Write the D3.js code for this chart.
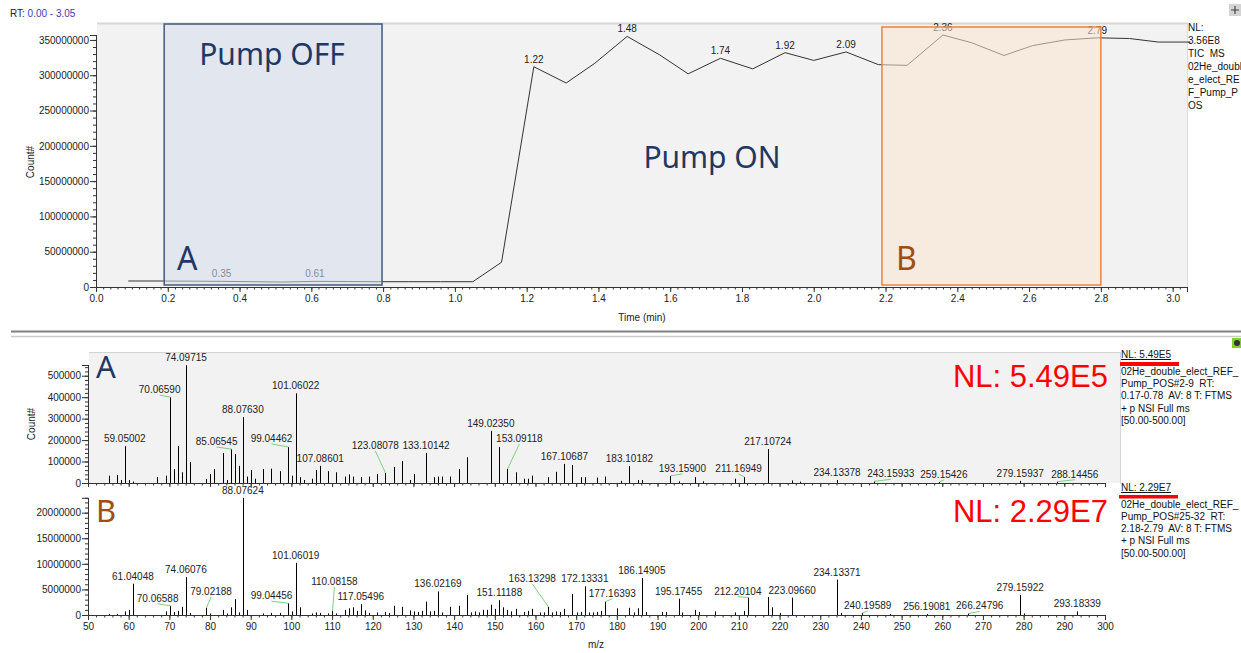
<!DOCTYPE html>
<html>
<head>
<meta charset="UTF-8">
<title>TIC and spectra</title>
<script src="https://cdn.jsdelivr.net/npm/d3@7/dist/d3.min.js"></script>
<style>
    body { margin: 0; background: #fff; }
    svg text { font-family: "Liberation Sans", Arial, sans-serif; }
    .axis text { font-size: 10px; fill: #222; }
    .axis path, .axis line { stroke: #333; }
    .lab { font-size: 10px; fill: #222; }
    .info { font-size: 10px; fill: #111; white-space: pre; }
    .big { font-family: "Noto Sans", sans-serif; }
</style>
</head>
<body>
<svg id="svg"></svg>
<script>

var WIDTH = 1241;
var HEIGHT = 653;

// TIC chromatogram
var ticTime  = [0.09, 0.17, 0.26, 0.35, 0.44, 0.52, 0.61, 0.70, 0.78, 0.87, 0.96, 1.05, 1.13,
                1.22, 1.31, 1.39, 1.48, 1.57, 1.65, 1.74, 1.83, 1.92, 2.00, 2.09, 2.18, 2.26,
                2.36, 2.44, 2.53, 2.61, 2.70, 2.79, 2.88, 2.96, 3.05];
var ticCount = [8.5e6, 8.5e6, 8.3e6, 8.0e6, 7.5e6, 7.0e6, 8.0e6, 7.8e6, 7.5e6, 7.5e6, 7.5e6, 7.5e6, 35e6,
                312e6, 289e6, 317e6, 355e6, 329e6, 302e6, 324e6, 309e6, 332e6, 321e6, 333e6, 315e6, 314e6,
                357e6, 346e6, 328e6, 342e6, 350e6, 353e6, 352e6, 347e6, 347e6];
var ticLabelled = [0.35, 0.61, 1.22, 1.48, 1.74, 1.92, 2.09, 2.36, 2.79];
var ticYTicks = [0, 50e6, 100e6, 150e6, 200e6, 250e6, 300e6, 350e6];
var ticXTicks = [0.0, 0.2, 0.4, 0.6, 0.8, 1.0, 1.2, 1.4, 1.6, 1.8, 2.0, 2.2, 2.4, 2.6, 2.8, 3.0];
var rangeA = [0.19, 0.797];
var rangeB = [2.19, 2.80];

// spectrum A (pump off)
var specA = [
    [55.05, 34000], [57.07, 37000], [58.07, 14000], [59.05002, 172000], [60.08, 14000], [61.04, 7000],
    [67.05, 28000], [69.07, 34000], [70.06590, 400000], [71.07, 65000], [72.08, 172000], [73.07, 50000],
    [74.06, 280000], [74.09715, 549000], [75.08, 98000], [79.05, 19000], [80.05, 42000], [81.07, 65000],
    [83.09, 140000], [84.08, 14000], [85.06545, 158000], [86.10, 135000], [87.04, 80000], [88.07630, 307000],
    [89.06, 30000], [90.05, 60000], [91.05, 20000], [93.07, 65000], [95.09, 67000], [97.10, 55000],
    [99.04462, 168000], [100.08, 34000], [101.06022, 418000], [102.09, 27000], [103.05, 14000], [105.07, 20000],
    [106.09, 60000], [107.08601, 80000], [109.10, 55000], [111.08, 50000], [113.10, 30000], [114.09, 40000],
    [115.08, 30000], [117.07, 28000], [119.09, 30000], [121.10, 42000], [123.08078, 47000], [125.10, 75000],
    [127.11, 102000], [129.09, 14000], [130.09, 42000], [133.10142, 140000], [135.12, 27000], [136.08, 30000],
    [137.10, 30000], [139.11, 30000], [141.09, 65000], [143.11, 120000], [149.02350, 243000], [151.11, 168000],
    [153.09118, 65000], [155.11, 50000], [157.12, 20000], [158.09, 20000], [159.10, 34000], [163.13, 27000],
    [165.09, 52000], [167.10687, 89000], [169.10, 84000], [171.11, 27000], [172.13, 27000], [175.12, 25000],
    [177.16, 30000], [181.12, 10000], [183.10182, 79000], [185.13, 14000], [186.15, 14000], [193.15900, 33000],
    [195.17, 8000], [199.13, 27000], [201.12, 8000], [209.15, 20000], [211.16949, 28000], [217.10724, 158000],
    [223.10, 12000], [225.12, 6000], [234.13378, 14000], [243.15933, 8000], [259.15426, 5000],
    [279.15937, 10000], [288.14456, 6000]
];
var specALabelled = [59.05002, 70.06590, 74.09715, 85.06545, 88.07630, 99.04462, 101.06022, 107.08601,
                     123.08078, 133.10142, 149.02350, 153.09118, 167.10687, 183.10182, 193.15900,
                     211.16949, 217.10724, 234.13378, 243.15933, 259.15426, 279.15937, 288.14456];
var specAYTicks = [0, 100000, 200000, 300000, 400000, 500000];

// spectrum B (pump on)
var specB = [
    [55.05, 200000], [57.07, 200000], [59.05, 700000], [60.04, 1000000], [61.04048, 6100000], [69.07, 700000],
    [70.06588, 1800000], [71.05, 600000], [72.08, 800000], [73.07, 1600000], [74.06076, 7400000], [74.10, 6900000],
    [75.08, 400000], [79.02188, 1400000], [80.05, 300000], [83.09, 1000000], [84.08, 300000], [85.07, 1500000],
    [86.10, 3100000], [87.07, 500000], [88.07624, 22900000], [89.08, 1000000], [93.07, 300000], [95.09, 400000],
    [97.10, 400000], [99.04456, 2300000], [100.08, 700000], [101.06019, 10200000], [102.09, 1500000],
    [105.07, 300000], [106.09, 500000], [107.09, 400000], [109.10, 300000], [110.08158, 800000], [111.08, 300000],
    [113.10, 1000000], [114.09, 1300000], [115.08, 1500000], [116.07, 800000], [117.05496, 2100000],
    [118.09, 900000], [119.09, 400000], [121.10, 500000], [123.08, 600000], [124.09, 400000], [125.10, 1800000],
    [127.11, 1600000], [129.09, 900000], [130.09, 700000], [131.10, 600000], [132.10, 800000], [133.12, 2600000],
    [134.10, 700000], [135.12, 800000], [136.02169, 4600000], [137.10, 500000], [139.11, 1600000],
    [141.09, 1800000], [143.11, 3900000], [144.10, 500000], [145.10, 700000], [146.10, 500000], [147.11, 1000000],
    [148.10, 1000000], [149.02, 2000000], [150.10, 1200000], [151.11188, 2900000], [152.11, 1500000],
    [153.09, 1000000], [154.10, 700000], [155.11, 1200000], [157.12, 600000], [158.09, 800000], [159.10, 1200000],
    [161.12, 500000], [162.11, 500000], [163.13298, 1600000], [164.10, 500000], [165.09, 700000], [166.10, 600000],
    [167.11, 1200000], [169.10, 4100000], [170.11, 500000], [171.11, 600000], [172.13331, 5600000],
    [173.12, 500000], [174.11, 500000], [175.12, 600000], [176.12, 800000], [177.16393, 2600000],
    [180.12, 1300000], [183.10, 1400000], [184.11, 500000], [185.13, 1300000], [186.14905, 7200000],
    [187.13, 600000], [191.14, 600000], [192.13, 600000], [195.17455, 3200000], [196.13, 500000],
    [199.13, 1000000], [200.13, 600000], [204.14, 700000], [209.15, 500000], [211.14, 800000],
    [212.20104, 3400000], [217.11, 3500000], [218.12, 1500000], [220.13, 400000], [223.09660, 3400000],
    [234.13371, 6900000], [235.14, 400000], [240.19589, 400000], [247.13, 200000], [256.19081, 200000],
    [266.24796, 300000], [279.15922, 3900000], [280.16, 300000], [293.18339, 700000]
];
var specBLabelled = [61.04048, 70.06588, 74.06076, 79.02188, 88.07624, 99.04456, 101.06019, 110.08158,
                     117.05496, 136.02169, 151.11188, 163.13298, 172.13331, 177.16393, 186.14905,
                     195.17455, 212.20104, 223.09660, 234.13371, 240.19589, 256.19081, 266.24796,
                     279.15922, 293.18339];
var specBYTicks = [0, 5000000, 10000000, 15000000, 20000000];
var mzTicks = [50, 60, 70, 80, 90, 100, 110, 120, 130, 140, 150, 160, 170, 180, 190, 200,
               210, 220, 230, 240, 250, 260, 270, 280, 290, 300];

// label placement (pixels) for labels moved off their peak
var shiftA = {"70.06590": [-10, 0], "85.06545": [-14, 0], "99.04462": [-16, -1], "123.08078": [-10, -20],
              "153.09118": [12, -23], "193.15900": [12, 0], "211.16949": [-5, -1], "243.15933": [17, 0],
              "259.15426": [5, 0], "288.14456": [18, 0]};
var shiftB = {"70.06588": [-12, 0], "79.02188": [5, -9], "99.04456": [-16, 0], "110.08158": [2, -22],
              "163.13298": [-16, -21], "177.16393": [7, -1], "212.20104": [-10, 1], "240.19589": [6, 0],
              "266.24796": [12, 0]};

var svg = d3.select('#svg')
            .attr('width', WIDTH)
            .attr('height', HEIGHT);

// ---------------- top chromatogram ----------------
var xTime = d3.scaleLinear().domain([0, 3.04]).range([96, 1187]);
var yTic = d3.scaleLinear().domain([0, 357e6]).range([287, 35]);

svg.append('rect').attr('x', 97).attr('y', 23).attr('width', 1090).attr('height', 264).attr('fill', '#f2f2f2');
svg.append('line').attr('x1', 97).attr('x2', 1188).attr('y1', 23.5).attr('y2', 23.5)
   .attr('stroke', '#d6d6d6').attr('stroke-width', 2);
svg.append('line').attr('x1', 1187.5).attr('x2', 1187.5).attr('y1', 23).attr('y2', 287)
   .attr('stroke', '#dcdcdc');

var ticPts = ticTime.map(function(t, i){ return [t, ticCount[i]]; });
var ticLine = d3.line()
                .x(function(d){ return xTime(d[0]); })
                .y(function(d){ return yTic(d[1]); });
svg.append('path').datum(ticPts).attr('d', ticLine)
   .attr('fill', 'none').attr('stroke', '#333').attr('stroke-width', 1);

svg.append('g').selectAll('text')
   .data(ticPts.filter(function(d){ return ticLabelled.indexOf(d[0]) >= 0; }))
   .enter().append('text')
   .attr('class', 'lab')
   .attr('x', function(d){ return xTime(d[0]); })
   .attr('y', function(d){ return yTic(d[1]) - 4; })
   .attr('text-anchor', 'middle')
   .text(function(d){ return d[0].toFixed(2); });

// highlighted ranges
svg.append('rect').attr('x', xTime(rangeA[0])).attr('y', 24)
   .attr('width', xTime(rangeA[1]) - xTime(rangeA[0])).attr('height', 261)
   .attr('fill', '#d4dcec').attr('fill-opacity', 0.55)
   .attr('stroke', '#44597b').attr('stroke-width', 1.5);
svg.append('rect').attr('x', xTime(rangeB[0])).attr('y', 27)
   .attr('width', xTime(rangeB[1]) - xTime(rangeB[0])).attr('height', 258)
   .attr('fill', '#fbe4d0').attr('fill-opacity', 0.55)
   .attr('stroke', '#ee8238').attr('stroke-width', 1.5);

svg.append('text').attr('class', 'big').attr('x', 272).attr('y', 65).attr('text-anchor', 'middle')
   .attr('font-size', 30).attr('fill', '#1f3864').text('Pump OFF');
svg.append('text').attr('class', 'big').attr('x', 712).attr('y', 168).attr('text-anchor', 'middle')
   .attr('font-size', 30).attr('fill', '#1f3864').text('Pump ON');
svg.append('text').attr('class', 'big').attr('x', 177).attr('y', 270)
   .attr('font-size', 32).attr('fill', '#1f3864').text('A');
svg.append('text').attr('class', 'big').attr('x', 896).attr('y', 270)
   .attr('font-size', 32).attr('fill', '#a04d14').text('B');

// axes
svg.append('g').attr('class', 'axis').attr('transform', 'translate(96,0)')
   .call(d3.axisLeft(yTic).tickValues(d3.range(0, 351, 10).map(function(v){ return v * 1e6; }))
         .tickSize(3).tickFormat(''));
svg.append('g').attr('class', 'axis').attr('transform', 'translate(96,0)')
   .call(d3.axisLeft(yTic).tickValues(ticYTicks).tickSize(6).tickPadding(1).tickFormat(d3.format('d')));
svg.append('g').attr('class', 'axis').attr('transform', 'translate(0,287)')
   .call(d3.axisBottom(xTime).tickValues(d3.range(0, 153).map(function(v){ return v * 0.02; }))
         .tickSize(2.5).tickFormat(''));
svg.append('g').attr('class', 'axis').attr('transform', 'translate(0,287)')
   .call(d3.axisBottom(xTime).tickValues(ticXTicks).tickSize(5).tickFormat(d3.format('.1f')));

svg.append('text').attr('class', 'lab').attr('x', 642).attr('y', 321).attr('text-anchor', 'middle').text('Time (min)');
svg.append('text').attr('class', 'lab').attr('transform', 'translate(34,162) rotate(-90)')
   .attr('text-anchor', 'middle').text('Count#');

var rt = svg.append('text').attr('class', 'lab').attr('x', 10).attr('y', 17);
rt.append('tspan').attr('fill', '#222').text('RT: ');
rt.append('tspan').attr('fill', '#3c3cb4').text('0.00 - 3.05');

var ticInfo = ['NL:', '3.56E8', 'TIC  MS', '02He_doubl', 'e_elect_RE', 'F_Pump_P', 'OS'];
svg.append('g').selectAll('text').data(ticInfo).enter().append('text')
   .attr('class', 'info').attr('x', 1188)
   .attr('y', function(d, i){ return 31 + 13 * i; })
   .text(function(d){ return d; });

// little toolbar icons
svg.append('rect').attr('x', 1229).attr('y', 4).attr('width', 12).attr('height', 12).attr('fill', '#d4d4d4');
svg.append('path').attr('d', 'M1231,10 H1239 M1235,6 V14').attr('stroke', '#444').attr('stroke-width', 1.2);

// separator
svg.append('line').attr('x1', 11).attr('x2', 1241).attr('y1', 331.5).attr('y2', 331.5)
   .attr('stroke', '#808080').attr('stroke-width', 2);
svg.append('line').attr('x1', 11).attr('x2', 1241).attr('y1', 336.5).attr('y2', 336.5)
   .attr('stroke', '#cacaca').attr('stroke-width', 1.5);
svg.append('rect').attr('x', 1232).attr('y', 338).attr('width', 9).attr('height', 10).attr('fill', '#7fd12b');
svg.append('circle').attr('cx', 1237).attr('cy', 343).attr('r', 3).attr('fill', '#333');

// ---------------- spectra ----------------
var xMz = d3.scaleLinear().domain([50, 300]).range([88, 1105]);
var yA = d3.scaleLinear().domain([0, 550000]).range([483, 365]);
var yB = d3.scaleLinear().domain([0, 22900000]).range([615, 497.8]);

svg.append('rect').attr('x', 89).attr('y', 352).attr('width', 1032).attr('height', 131).attr('fill', '#f2f2f2');
svg.append('line').attr('x1', 89).attr('x2', 1121).attr('y1', 352.5).attr('y2', 352.5).attr('stroke', '#d2d2d2');
svg.append('line').attr('x1', 1120.5).attr('x2', 1120.5).attr('y1', 352).attr('y2', 484).attr('stroke', '#d6d6d6');

function drawSpectrum(spec, labelled, shifts, yScale) {
    var peaks = spec.map(function(d){ return {mz: d[0], v: d[1]}; });
    var px = function(d){ return Math.round(xMz(d.mz)) + 0.5; };

    svg.append('g').selectAll('line').data(peaks).enter().append('line')
       .attr('x1', px).attr('x2', px)
       .attr('y1', yScale(0)).attr('y2', function(d){ return yScale(d.v); })
       .attr('stroke', '#000').attr('stroke-width', 1);

    var labs = peaks.filter(function(d){ return labelled.indexOf(d.mz) >= 0; });
    labs.forEach(function(d){
        var key = d.mz.toFixed(5);
        var s = shifts[key] || [0, 0];
        var lx = xMz(d.mz) + s[0];
        var ly = yScale(d.v) - 4 + s[1];
        if (shifts[key]) {
            svg.append('line').attr('x1', lx).attr('y1', ly + 2)
               .attr('x2', px(d)).attr('y2', yScale(d.v))
               .attr('stroke', '#7fcf7f').attr('stroke-width', 1);
        }
        svg.append('text').attr('class', 'lab').attr('x', lx).attr('y', ly)
           .attr('text-anchor', 'middle').text(key);
    });
}

drawSpectrum(specA, specALabelled, shiftA, yA);
drawSpectrum(specB, specBLabelled, shiftB, yB);

// spectrum axes
svg.append('g').attr('class', 'axis').attr('transform', 'translate(88,0)')
   .call(d3.axisLeft(yA).tickValues(d3.range(0, 541000, 20000)).tickSize(3).tickFormat(''));
svg.append('g').attr('class', 'axis').attr('transform', 'translate(88,0)')
   .call(d3.axisLeft(yA).tickValues(specAYTicks).tickSize(6).tickPadding(1).tickFormat(d3.format('d')));
svg.append('g').attr('class', 'axis').attr('transform', 'translate(0,483)')
   .call(d3.axisBottom(xMz).tickValues(d3.range(50, 301, 2)).tickSize(2.5).tickFormat(''));
svg.append('g').attr('class', 'axis').attr('transform', 'translate(0,483)')
   .call(d3.axisBottom(xMz).tickValues(mzTicks).tickSize(4).tickFormat(''));

svg.append('g').attr('class', 'axis').attr('transform', 'translate(88,0)')
   .call(d3.axisLeft(yB).tickValues(d3.range(0, 22500001, 1000000)).tickSize(3).tickFormat(''));
svg.append('g').attr('class', 'axis').attr('transform', 'translate(88,0)')
   .call(d3.axisLeft(yB).tickValues(specBYTicks).tickSize(6).tickPadding(1).tickFormat(d3.format('d')));
svg.append('g').attr('class', 'axis').attr('transform', 'translate(0,615)')
   .call(d3.axisBottom(xMz).tickValues(d3.range(50, 301, 2)).tickSize(2.5).tickFormat(''));
svg.append('g').attr('class', 'axis').attr('transform', 'translate(0,615)')
   .call(d3.axisBottom(xMz).tickValues(mzTicks).tickSize(5).tickFormat(d3.format('d')));

svg.append('text').attr('class', 'lab').attr('x', 596).attr('y', 648).attr('text-anchor', 'middle').text('m/z');
svg.append('text').attr('class', 'lab').attr('transform', 'translate(35,424) rotate(-90)')
   .attr('text-anchor', 'middle').text('Count#');

// panel letters and big normalisation levels
svg.append('text').attr('class', 'big').attr('x', 96).attr('y', 378)
   .attr('font-size', 31).attr('fill', '#1f3864').text('A');
svg.append('text').attr('class', 'big').attr('x', 96).attr('y', 522)
   .attr('font-size', 31).attr('fill', '#a04d14').text('B');
svg.append('text').attr('x', 1108).attr('y', 387).attr('text-anchor', 'end')
   .attr('font-size', 31).attr('fill', '#ff0000').text('NL: 5.49E5');
svg.append('text').attr('x', 1108).attr('y', 522).attr('text-anchor', 'end')
   .attr('font-size', 31).attr('fill', '#ff0000').text('NL: 2.29E7');

// scan info on the right
var infoA = ['NL: 5.49E5', '02He_double_elect_REF_', 'Pump_POS#2-9  RT:', '0.17-0.78  AV: 8 T: FTMS',
             '+ p NSI Full ms', '[50.00-500.00]'];
var infoB = ['NL: 2.29E7', '02He_double_elect_REF_', 'Pump_POS#25-32  RT:', '2.18-2.79  AV: 8 T: FTMS',
             '+ p NSI Full ms', '[50.00-500.00]'];
var infoAY = [358, 375, 387, 399, 412, 424];
var infoBY = [491, 508, 520, 532, 544, 557];

svg.append('g').selectAll('text').data(infoA).enter().append('text')
   .attr('class', 'info').attr('x', 1121)
   .attr('y', function(d, i){ return infoAY[i]; })
   .attr('text-decoration', function(d, i){ return i === 0 ? 'underline' : null; })
   .text(function(d){ return d; });
svg.append('g').selectAll('text').data(infoB).enter().append('text')
   .attr('class', 'info').attr('x', 1121)
   .attr('y', function(d, i){ return infoBY[i]; })
   .attr('text-decoration', function(d, i){ return i === 0 ? 'underline' : null; })
   .text(function(d){ return d; });

svg.append('rect').attr('x', 1120).attr('y', 362).attr('width', 59).attr('height', 4).attr('fill', '#ff0000');
svg.append('rect').attr('x', 1119).attr('y', 495).attr('width', 59).attr('height', 3.5).attr('fill', '#ff0000');

</script>
</body>
</html>
